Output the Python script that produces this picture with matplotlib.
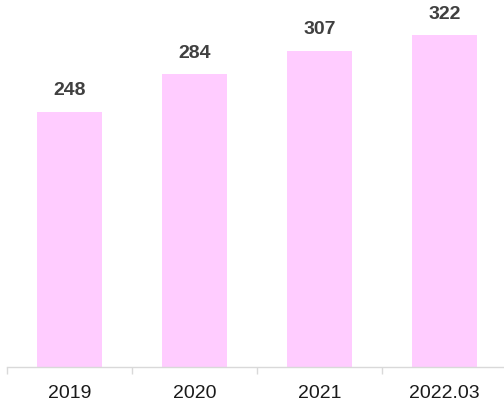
import matplotlib.pyplot as plt
import numpy as np

categories = ['2019', '2020', '2021', '2022.03']
values = [248, 284, 307, 322]

plt.rcParams['font.family'] = ['Liberation Sans', 'DejaVu Sans']

fig = plt.figure(figsize=(5.04, 4.06), dpi=100)
ax = fig.add_axes([7 / 504, 38 / 406, 500 / 504, 360.5 / 406])

x = np.arange(len(categories))
bars = ax.bar(x, values, width=0.52, color='#FFCCFF')

for xi, v in zip(x, values):
    ax.annotate(str(v), (xi, v), xytext=(0, 12.5), textcoords='offset points',
                ha='center', va='baseline', fontsize=14, fontweight='bold',
                color='#404040')

ax.set_xlim(-0.5, len(categories) - 0.5)
ax.set_ylim(0, 350)

for s in ['top', 'right', 'left']:
    ax.spines[s].set_visible(False)
ax.spines['bottom'].set_color('#d9d9d9')
ax.spines['bottom'].set_linewidth(1)

ax.set_yticks([])
ax.set_xticks(x)
ax.set_xticklabels(categories, fontsize=14, color='#1a1a1a')
ax.tick_params(axis='x', which='major', length=0, pad=12)
ax.set_xticks(np.arange(-0.5, len(categories)), minor=True)
ax.tick_params(axis='x', which='minor', length=5, color='#d9d9d9', width=1)

fig.savefig('out.png', dpi=100)
